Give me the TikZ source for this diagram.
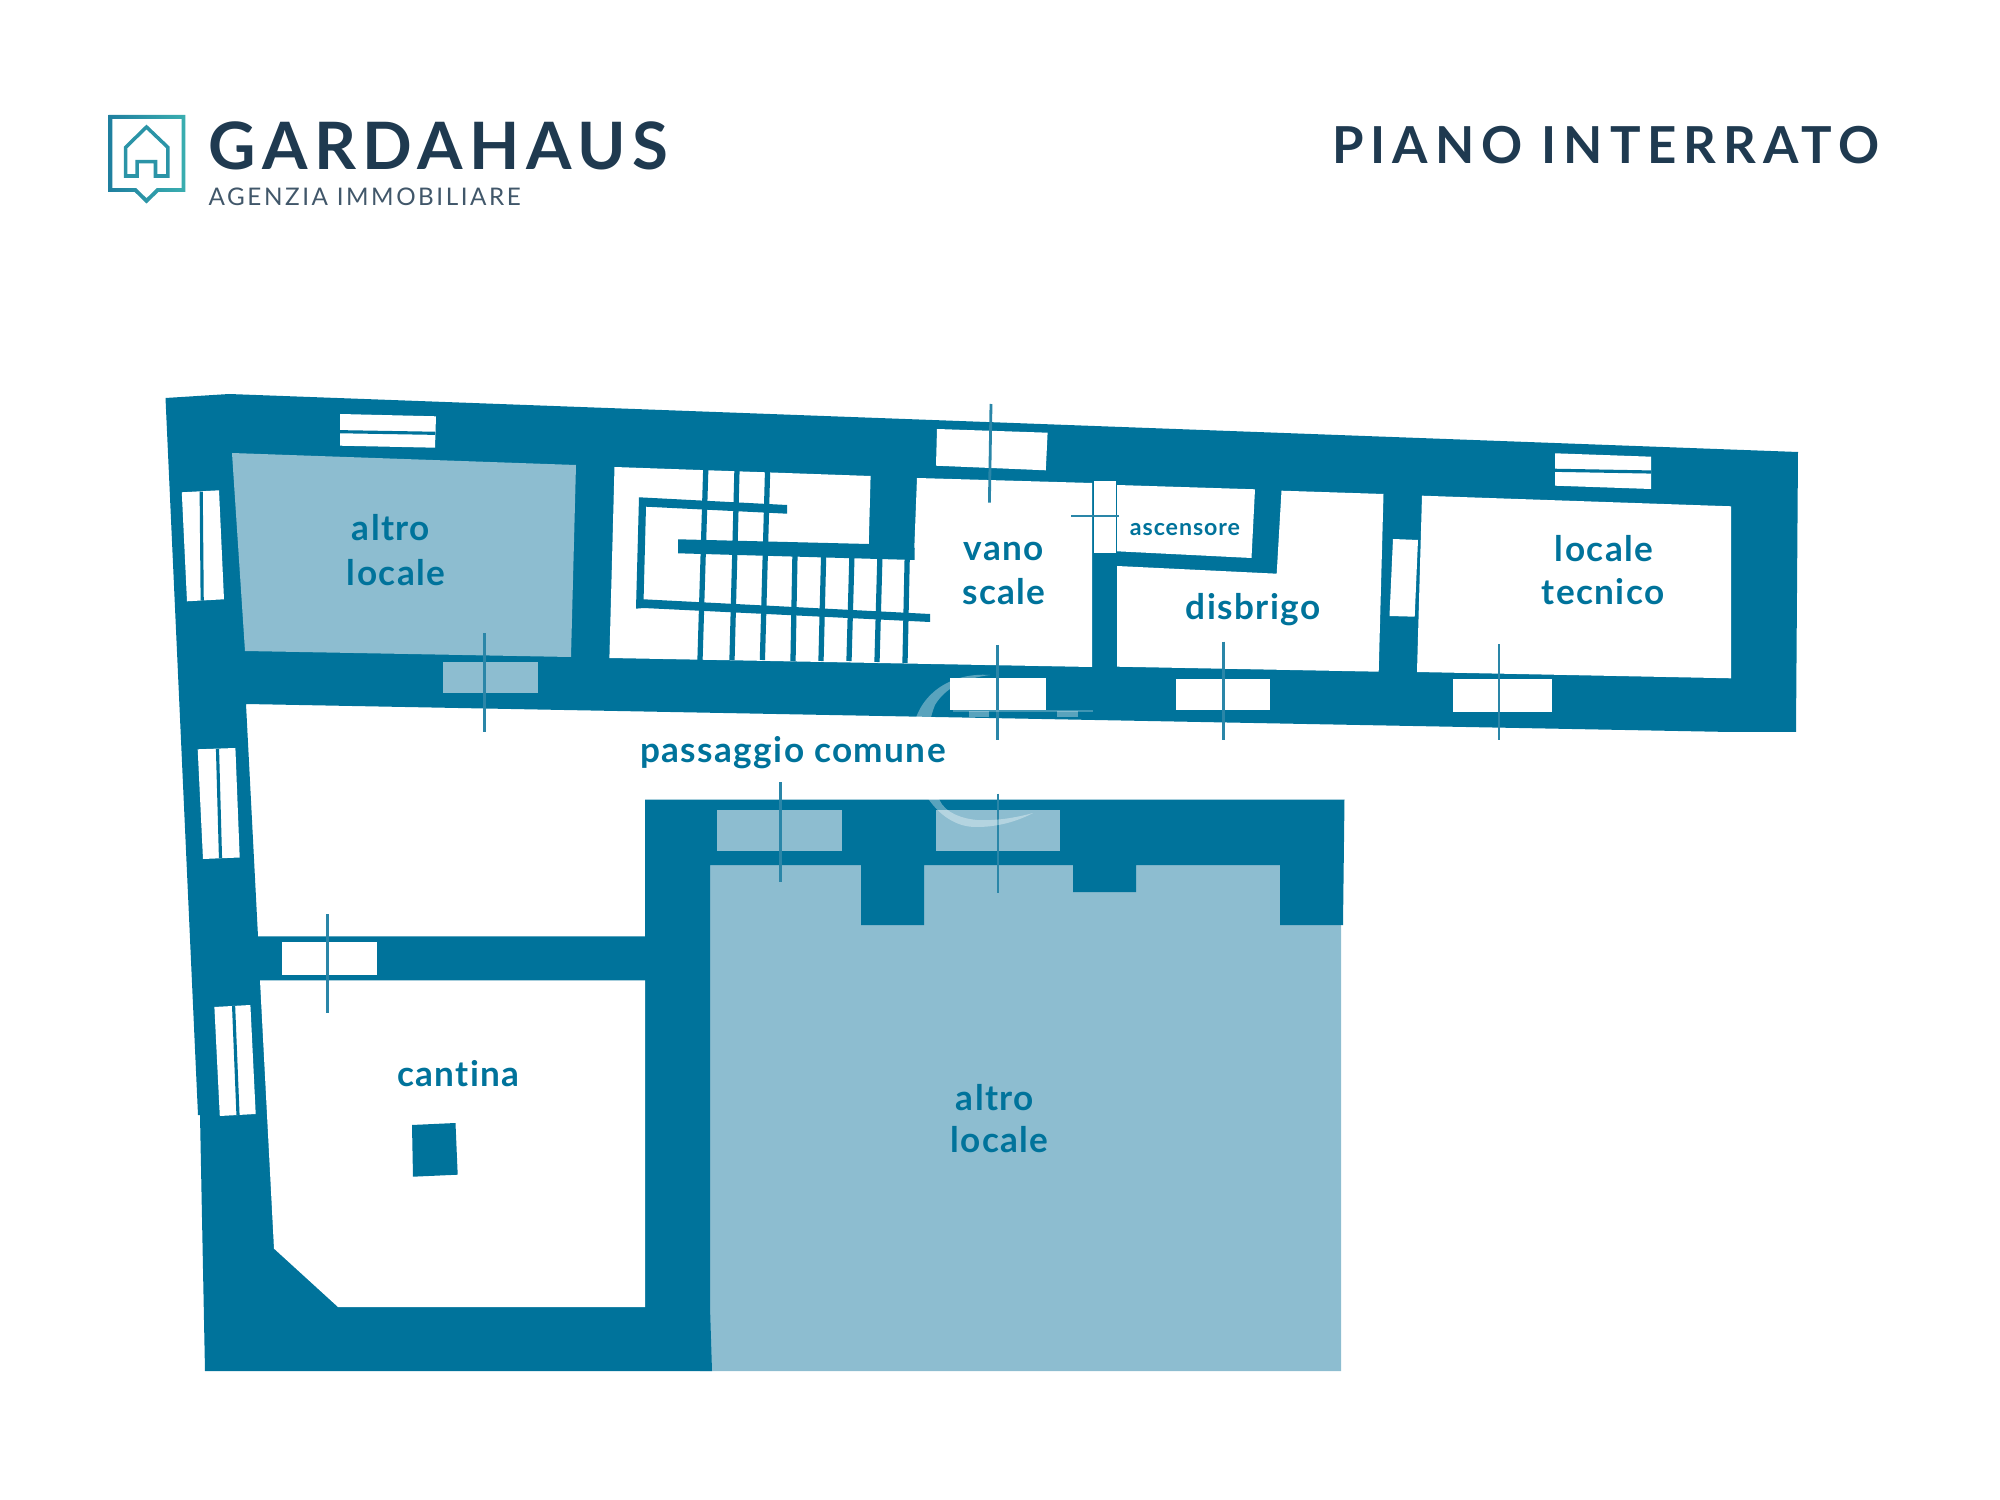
\documentclass[tikz,border=0pt]{standalone}
\usepackage{fontspec}
\newfontfamily\labelfont[LetterSpace=4,Ligatures=CommonOff]{Lato}
\newfontfamily\brandfont[LetterSpace=10]{Lato}
\newfontfamily\agencyfont[LetterSpace=10.5]{Lato}
\newfontfamily\titlefont[LetterSpace=13.6]{Lato}
\usetikzlibrary{positioning}
\definecolor{wallblue}{HTML}{00739B}
\definecolor{lightblue}{HTML}{8DBDD0}
\definecolor{linkblue}{HTML}{2A86A8}
\definecolor{darknavy}{HTML}{1F3A50}
\definecolor{logoleft}{HTML}{1F7F9F}
\definecolor{logoright}{HTML}{3AAEB0}
\tikzset{
    wall/.style={fill=wallblue,draw=none},
    lightroom/.style={fill=lightblue,draw=none},
    room/.style={fill=white,draw=none},
    mullion/.style={draw=wallblue,line width=.9pt},
    doorline/.style={draw=linkblue,line width=.8pt},
    tread/.style={draw=wallblue,line width=1.5pt},
    roomlabel/.style={text=wallblue,font=\labelfont\bfseries\fontsize{10}{12}\selectfont,inner sep=0pt},
}
\begin{document}
\begin{tikzpicture}[x=.1mm,y=-.1mm]
    \useasboundingbox (0,0) rectangle (2000,1500);

    %%%% Logo =====================================
    \shade[left color=logoleft,right color=logoright,even odd rule]
        (108.6,115) -- (185.3,115) -- (185.3,192) -- (158.4,192) -- (146.5,203.5) -- (134.7,192) -- (108.6,192) -- cycle
        (112.4,118.8) -- (181.5,118.8) -- (181.5,188.2) -- (156.8,188.2) -- (146.5,198.2) -- (136.3,188.2) -- (112.4,188.2) -- cycle;
    \draw[draw=logoleft!55!logoright,line width=1pt,line join=miter]
        (146.5,127) -- (167.8,147.3) -- (167.8,176) -- (155.5,176) -- (155.5,161.7) -- (137.1,161.7) -- (137.1,176) -- (125.7,176) -- (125.7,147.3) -- cycle;
    \node[anchor=base west,inner sep=0pt,text=darknavy,font=\brandfont\bfseries\fontsize{18.6}{20}\selectfont] (brand) at (208,169.5) {GARDAHAUS};
    \node[anchor=base west,inner sep=0pt,text=darknavy!85,font=\agencyfont\fontsize{6.9}{8}\selectfont] (agency) at (208,206) {AGENZIA IMMOBILIARE};
    \node[anchor=base east,inner sep=0pt,text=darknavy,font=\titlefont\bfseries\fontsize{14.5}{16}\selectfont] (floor) at (1880,163.3) {PIANO INTERRATO};

    %%%% Rooms and walls ==========================
    % Light rooms
    \fill[lightroom] (700,860) -- (861,865) -- (861,925) -- (924,925) -- (924,865) -- (1073,865) -- (1073,892) -- (1136,892) -- (1136,865) -- (1280,865) -- (1280,925) -- (1341,925) -- (1341,1371) -- (700,1371) -- cycle;

    % Walls
    \fill[wall] (165.5,398) -- (229,394) -- (1798,452) -- (1796,732) -- (1731,732) -- (246,704) -- (258,936.3) -- (645,936.3) -- (645,799.5) -- (1344.5,799.5) -- (1343,925) -- (1280,925) -- (1280,865) -- (1136,865) -- (1136,892) -- (1073,892) -- (1073,865) -- (924,865) -- (924,925) -- (861,925) -- (861,865) -- (710,865) -- (710,1307) -- (712,1371) -- (205,1371) -- (200,1115) -- (198,1115) -- cycle;

    % Rooms
    \fill[lightroom] (232,453) -- (576,465) -- (571,657) -- (245,651) -- cycle;
    \fill[room] (614.5,467) -- (870.6,476) -- (868.6,550) -- (914,556) -- (917,478) -- (1092,483) -- (1092,667) -- (609.4,658) -- cycle;
    \fill[room] (1117,485) -- (1255,489.3) -- (1251.5,558) -- (1117,551.3) -- cycle;
    \fill[room] (1281.5,490.7) -- (1383.5,494) -- (1378.7,671.7) -- (1117,666.7) -- (1117,566) -- (1276.7,573.7) -- cycle;
    \fill[room] (1422,495.7) -- (1731,506.3) -- (1731,678.3) -- (1417,672) -- cycle;
    \fill[room] (260,980.4) -- (645,980.4) -- (645,1307) -- (338,1307) -- (274,1248.6) -- cycle;
    \fill[wall] (412,1125) -- (455.5,1123) -- (457.7,1174.7) -- (413,1176.7) -- cycle;

    %%%% Stairs ===================================
    \fill[wall] (639,497.3) -- (787,505) -- (787,513.7) -- (646,506.7) -- (643.6,599.3) -- (930,614) -- (930,622) -- (643.6,608) -- (636,608.7) -- cycle;
    \fill[wall] (678,539.3) -- (868.6,544) -- (914.5,548) -- (914.5,560) -- (678,553.3) -- cycle;
    \draw[tread] (705.8,468) -- (700,660);
    \draw[tread] (737,469) -- (732,660);
    \draw[tread] (767.6,470) -- (762.4,660);
    \draw[tread] (795,553) -- (793,661);
    \draw[tread] (823.7,553) -- (821,661);
    \draw[tread] (852,553) -- (849,661);
    \draw[tread] (880,553) -- (877,662);
    \draw[tread] (907.3,553) -- (905,663);

    %%%% Windows ==================================
    \fill[room] (340,414) -- (436,416.3) -- (435,447.7) -- (340,445.7) -- cycle;
    \draw[mullion] (340,431.7) -- (435,433.3);
    \fill[room] (1555,453.3) -- (1651,456.7) -- (1651,489) -- (1555,485.7) -- cycle;
    \draw[mullion] (1555,470.3) -- (1651,472);
    \fill[room] (181.8,492.3) -- (219,490.3) -- (224,599.3) -- (187,601.3) -- cycle;
    \draw[mullion] (201.2,491.7) -- (202.2,600.7);
    \fill[room] (197.7,749.3) -- (235.4,748) -- (239.7,857.5) -- (203,859) -- cycle;
    \draw[mullion] (217.5,749) -- (220.5,858.3);
    \fill[room] (214.4,1007) -- (250.4,1005) -- (255.7,1114) -- (219.8,1116) -- cycle;
    \draw[mullion] (233.6,1006) -- (238,1115);
    \fill[room] (1393,539) -- (1418,540) -- (1414.7,616.7) -- (1389.5,616) -- cycle;

    %%%% Doors ====================================
    \fill[room] (937,429) -- (1047.6,432.7) -- (1045.8,470.3) -- (936,465.7) -- cycle;
    \draw[doorline] (991,404) -- (989.4,502.7);
    \fill[room] (949.8,677.7) rectangle (1046.4,710);
    \draw[doorline] (997.8,645) -- (997.8,740);
    \fill[room] (1176,679) rectangle (1270,710.3);
    \draw[doorline] (1223.3,641.7) -- (1223.3,740);
    \fill[room] (1452.5,679) rectangle (1552,712);
    \draw[doorline] (1499,644.3) -- (1499,740);
    \fill[room] (1093.8,481) rectangle (1116,552.7);
    \draw[doorline] (1071,516) -- (1119,516);
    \fill[room] (281.8,942.4) rectangle (377.4,974.7);
    \draw[doorline] (327.7,914.3) -- (327.7,1013);
    \fill[lightroom] (442.6,661.7) rectangle (538,693.3);
    \draw[doorline] (484.4,633.3) -- (484.4,731.7);
    \fill[lightroom] (717,809.8) rectangle (842,850.6);
    \draw[doorline] (780.6,782.4) -- (780.6,881.6);
    \fill[lightroom] (936,809.8) rectangle (1060,850.6);
    \draw[doorline] (998,793.5) -- (998,892.6);

    %%%% Watermark ================================
    \fill[white,opacity=.35] (990,675) .. controls (950,672) and (918,695) .. (913,730) .. controls (905,775) and (935,828) .. (977,827) .. controls (1000,827) and (1020,820) .. (1033,813) .. controls (1015,818) and (995,821) .. (977,820) .. controls (955,818) and (940,808) .. (938,795) .. controls (925,760) and (925,730) .. (935,705) .. controls (945,688) and (965,678) .. (990,675) -- cycle;
    \fill[white,opacity=.25] (953,710.5) rectangle (1093,712.5);
    \fill[white,opacity=.35] (969,711) rectangle (989,717);
    \fill[white,opacity=.35] (1057,711) rectangle (1078,717);

    %%%% Labels ===================================
    \node[roomlabel] (altroa) at (391,528) {altro};
    \node[roomlabel] (localea) at (396,572.5) {locale};
    \node[roomlabel] (vano) at (1004,551) {vano};
    \node[roomlabel] (scale) at (1004,592) {scale};
    \node[roomlabel,font=\labelfont\bfseries\fontsize{6.6}{8}\selectfont] (lift) at (1185,530) {ascensore};
    \node[roomlabel] (disbrigo) at (1253,610) {disbrigo};
    \node[roomlabel] (localeb) at (1604,549) {locale};
    \node[roomlabel] (tecnico) at (1603,592) {tecnico};
    \node[roomlabel] (passage) at (793,753) {passaggio comune};
    \node[roomlabel] (cellar) at (458.5,1073.5) {cantina};
    \node[roomlabel] (altrob) at (995,1098) {altro};
    \node[roomlabel] (localec) at (999.5,1140) {locale};
\end{tikzpicture}
\end{document}
